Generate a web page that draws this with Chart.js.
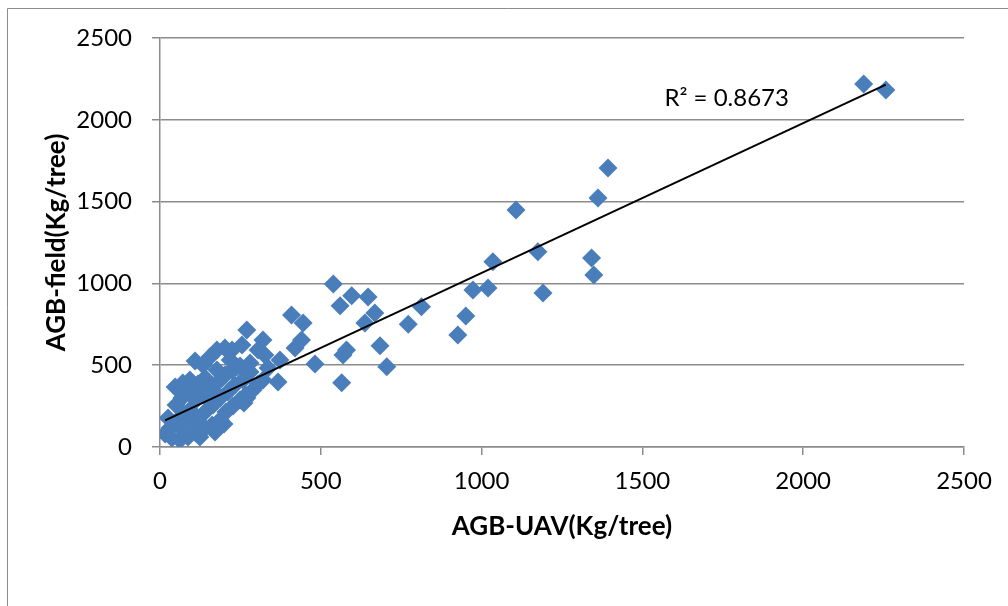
<!DOCTYPE html>
<html>
<head>
<meta charset="utf-8">
<script src="https://cdn.jsdelivr.net/npm/chart.js@4"></script>
<style>
  body { margin: 0; background: #fff; }
  canvas { display: block; }
</style>
</head>
<body>
<canvas id="agbChart" width="1008" height="606"></canvas>
<script>
// AGB from UAV (x) vs AGB measured in the field (y), Kg/tree
const uavValues = [
  2188, 2257, 1393, 1362, 1107, 1175, 1342, 1349, 1191, 1035, 1020, 973, 951, 926,
  813, 772, 705, 684, 668, 647, 637, 596, 580, 569, 565, 560, 539,
  482, 445, 440, 420, 409, 373, 367, 336, 326, 320, 320, 305, 305, 289, 280, 280,
  270, 270, 267, 261, 258, 255, 249, 249, 239, 233, 227, 224, 224, 218, 211, 205,
  202, 202, 199, 193, 187, 187, 180, 177, 177, 171, 165, 162, 162, 155, 140, 140,
  140, 137, 134, 124, 118, 118, 112, 112, 109, 93, 93, 93, 87, 87, 72, 71, 68,
  62, 62, 50, 50, 47, 37, 31, 25, 16
];
const fieldValues = [
  2219, 2182, 1705, 1522, 1449, 1194, 1155, 1051, 941, 1133, 972, 960, 801, 685,
  858, 750, 491, 619, 819, 917, 758, 925, 593, 562, 393, 864, 996,
  507, 758, 654, 605, 807, 532, 397, 483, 562, 654, 410, 593, 385, 348, 513, 458,
  715, 300, 318, 269, 410, 623, 495, 287, 489, 379, 251, 593, 471, 532, 336, 214,
  605, 440, 141, 422, 300, 165, 397, 593, 471, 92, 257, 361, 134, 550, 422, 214,
  116, 318, 501, 61, 385, 177, 287, 86, 526, 410, 226, 141, 336, 61, 196, 391, 300,
  122, 43, 257, 153, 367, 55, 116, 177, 80
];
const xTicks = [0, 500, 1000, 1500, 2000, 2500];
const yTicks = [0, 500, 1000, 1500, 2000, 2500];

// linear trend line as shown in the picture
const trendSlope = 0.916;
const trendIntercept = 148;
const rSquaredLabel = 'R\u00B2 = 0.8673';

const points = uavValues.map((x, i) => ({ x: x, y: fieldValues[i] }));
const minX = Math.min(...uavValues);
const maxX = Math.max(...uavValues);
const trend = [
  { x: minX, y: trendIntercept + trendSlope * minX },
  { x: maxX, y: trendIntercept + trendSlope * maxX }
];

const gridColor = '#8c8c8c';
const tickFont = { family: 'Lato', size: 24 };
const titleFont = { family: 'Lato', size: 26, weight: 'bold' };

// thin grey frame around the chart, like the spreadsheet chart box
const framePlugin = {
  id: 'frame',
  beforeDraw(chart) {
    const ctx = chart.ctx;
    ctx.save();
    ctx.fillStyle = '#fff';
    ctx.fillRect(0, 0, chart.width, chart.height);
    ctx.strokeStyle = '#8c8c8c';
    ctx.lineWidth = 1;
    ctx.beginPath();
    ctx.moveTo(7.5, chart.height);
    ctx.lineTo(7.5, 8.5);
    ctx.lineTo(chart.width, 8.5);
    ctx.stroke();
    ctx.restore();
  }
};

// R squared label near the top of the trend line
const rLabelPlugin = {
  id: 'rLabel',
  afterDatasetsDraw(chart) {
    const ctx = chart.ctx;
    const xs = chart.scales.x, ys = chart.scales.y;
    ctx.save();
    ctx.font = '24px Lato';
    ctx.fillStyle = '#000';
    ctx.textAlign = 'center';
    ctx.textBaseline = 'middle';
    ctx.fillText(rSquaredLabel, xs.getPixelForValue(1762), ys.getPixelForValue(2130));
    ctx.restore();
  }
};

new Chart(document.getElementById('agbChart').getContext('2d'), {
  type: 'scatter',
  data: {
    datasets: [
      {
        type: 'line',
        label: 'Trend',
        data: trend,
        borderColor: '#000',
        borderWidth: 2,
        pointRadius: 0,
        fill: false,
        order: 0
      },
      {
        label: 'AGB',
        data: points,
        pointStyle: 'rectRot',
        pointRadius: 9.5,
        backgroundColor: '#4a7ebb',
        borderWidth: 0,
        order: 1
      }
    ]
  },
  options: {
    responsive: false,
    animation: false,
    layout: { padding: { left: 0, top: 38, right: 44, bottom: 0 } },
    plugins: {
      legend: { display: false },
      tooltip: { enabled: false }
    },
    scales: {
      x: {
        type: 'linear',
        min: 0,
        max: 2500,
        afterBuildTicks(scale) { scale.ticks = xTicks.map(v => ({ value: v })); },
        afterFit(scale) { scale.height = 159; },
        ticks: { font: tickFont, color: '#000', padding: 12, callback: v => String(v) },
        grid: { drawOnChartArea: false, color: gridColor, tickLength: 8, lineWidth: 1.5 },
        border: { display: true, color: gridColor, width: 1.5 },
        title: {
          display: true,
          text: 'AGB-UAV(Kg/tree)',
          font: titleFont,
          color: '#000',
          padding: { top: 0, bottom: 64 }
        }
      },
      y: {
        type: 'linear',
        min: 0,
        max: 2500,
        afterBuildTicks(scale) { scale.ticks = yTicks.map(v => ({ value: v })); },
        afterFit(scale) { scale.width = 160; },
        ticks: { font: tickFont, color: '#000', padding: 20, callback: v => String(v) },
        grid: { color: gridColor, tickLength: 8, lineWidth: 1.5 },
        border: { display: true, color: gridColor, width: 1.5 },
        title: {
          display: true,
          text: 'AGB-field(Kg/tree)',
          font: titleFont,
          color: '#000',
          padding: { top: 41, bottom: 0 }
        }
      }
    }
  },
  plugins: [framePlugin, rLabelPlugin]
});
</script>
</body>
</html>
